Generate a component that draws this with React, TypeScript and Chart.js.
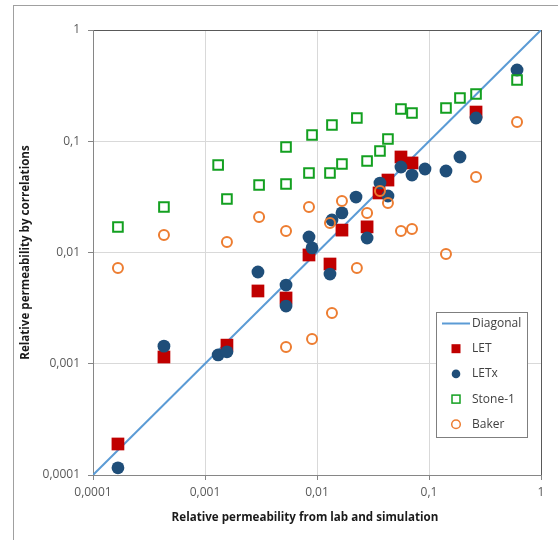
import { useEffect, useRef } from "react";
import { Chart, registerables } from "chart.js";

Chart.register(...registerables);

// ---- data ----
const tickValues = [0.0001, 0.001, 0.01, 0.1, 1];
const tickLabels = ["0,0001", "0,001", "0,01", "0,1", "1"];

const xTitle = "Relative permeability from lab and simulation";
const yTitle = "Relative permeability by correlations";

const diagonalX = [0.0001, 1];
const diagonalY = [0.0001, 1];

const letX = [0.000167, 0.00043, 0.00157, 0.00297, 0.00529, 0.00848, 0.01306, 0.0167, 0.028, 0.0358, 0.043, 0.0562, 0.0705, 0.263];
const letY = [0.00019, 0.00115, 0.00147, 0.00451, 0.0039, 0.0095, 0.00788, 0.0159, 0.017, 0.0343, 0.0448, 0.0722, 0.0638, 0.183];

const letxX = [0.000167, 0.00043, 0.00131, 0.00157, 0.00297, 0.00529, 0.00529, 0.00848, 0.00903, 0.01306, 0.0136, 0.0167, 0.0223, 0.028, 0.0365, 0.043, 0.0562, 0.0705, 0.0921, 0.1418, 0.189, 0.263, 0.611];
const letxY = [0.000116, 0.00144, 0.0012, 0.00128, 0.00668, 0.0051, 0.0033, 0.0138, 0.011, 0.0064, 0.0196, 0.0227, 0.0315, 0.0135, 0.0421, 0.0322, 0.0587, 0.0497, 0.0563, 0.054, 0.0722, 0.1618, 0.437];

const stoneX = [0.000167, 0.00043, 0.00131, 0.00157, 0.00304, 0.00529, 0.00529, 0.00903, 0.00848, 0.0136, 0.01306, 0.0167, 0.0227, 0.028, 0.0365, 0.043, 0.0562, 0.0705, 0.1418, 0.189, 0.263, 0.611];
const stoneY = [0.01695, 0.02564, 0.0612, 0.0303, 0.0404, 0.0888, 0.0413, 0.1138, 0.0518, 0.14, 0.0518, 0.0624, 0.1618, 0.0665, 0.0818, 0.1048, 0.195, 0.1794, 0.199, 0.2447, 0.266, 0.355];

const bakerX = [0.000167, 0.00043, 0.00157, 0.00304, 0.00529, 0.00529, 0.00848, 0.00903, 0.01306, 0.0136, 0.0167, 0.0227, 0.028, 0.0365, 0.043, 0.0562, 0.0705, 0.1418, 0.263, 0.611];
const bakerY = [0.00725, 0.01437, 0.01243, 0.02085, 0.0156, 0.001414, 0.02564, 0.001669, 0.01842, 0.00286, 0.029, 0.00725, 0.02265, 0.0357, 0.0279, 0.0156, 0.01627, 0.0097, 0.0477, 0.149];

const seriesNames = ["Diagonal", "LET", "LETx", "Stone-1", "Baker"];

const toPoints = (xs: number[], ys: number[]) => xs.map((x, i) => ({ x, y: ys[i] }));

const FONT = "'Open Sans', 'Liberation Sans', sans-serif";

const legendPlugin = {
  id: "insideLegend",
  afterDraw(chart: any) {
    const { ctx, chartArea } = chart;
    const bx = Math.round(chartArea.right - 105);
    const by = Math.round(chartArea.top + 282);
    const bw = 91;
    const bh = 125;
    ctx.save();
    ctx.fillStyle = "#ffffff";
    ctx.fillRect(bx, by, bw, bh);
    ctx.strokeStyle = "#7f7f7f";
    ctx.lineWidth = 1;
    ctx.strokeRect(bx + 0.5, by + 0.5, bw, bh);
    ctx.font = `12px ${FONT}`;
    ctx.textBaseline = "middle";
    ctx.textAlign = "left";
    chart.data.datasets.forEach((ds: any, i: number) => {
      const cy = by + 11.5 + i * 25.2;
      const mx = bx + 20;
      if (ds.showLine) {
        ctx.strokeStyle = ds.borderColor;
        ctx.lineWidth = 2;
        ctx.beginPath();
        ctx.moveTo(bx + 6, cy);
        ctx.lineTo(bx + 34, cy);
        ctx.stroke();
      } else if (ds.pointStyle === "rect") {
        if (ds.pointBorderWidth > 0) {
          ctx.strokeStyle = ds.pointBorderColor;
          ctx.lineWidth = 1.5;
          ctx.strokeRect(mx - 4, cy - 4, 8, 8);
        } else {
          ctx.fillStyle = ds.pointBackgroundColor;
          ctx.fillRect(mx - 4.5, cy - 4.5, 9, 9);
        }
      } else {
        ctx.beginPath();
        ctx.arc(mx, cy, 4.3, 0, Math.PI * 2);
        if (ds.pointBorderWidth > 0) {
          ctx.strokeStyle = ds.pointBorderColor;
          ctx.lineWidth = 1.5;
          ctx.stroke();
        } else {
          ctx.fillStyle = ds.pointBackgroundColor;
          ctx.fill();
        }
      }
      ctx.fillStyle = "#404040";
      ctx.fillText(ds.label, bx + 36, cy);
    });
    ctx.restore();
  },
};

// x-axis title drawn slightly left of the plot centre, as in the reference
const xTitlePlugin = {
  id: "xTitle",
  afterDraw(chart: any) {
    const { ctx, chartArea } = chart;
    ctx.save();
    ctx.font = `bold 11.6px ${FONT}`;
    ctx.fillStyle = "#1a1a1a";
    ctx.textAlign = "center";
    ctx.textBaseline = "middle";
    ctx.fillText(xTitle, (chartArea.left + chartArea.right) / 2 - 12, chartArea.bottom + 43);
    ctx.restore();
  },
};

export default function App() {
  const ref = useRef<HTMLCanvasElement | null>(null);

  useEffect(() => {
    if (!ref.current) return;
    const gridColor = (c: any) => (c.tick && c.tick.value === 1 ? "#595959" : "#d9d9d9");
    const setTicks = (scale: any) => {
      scale.ticks = tickValues.map((v) => ({ value: v }));
    };
    const tickCb = (v: any) => {
      const i = tickValues.findIndex((t) => Math.abs(t - Number(v)) / t < 1e-6);
      return i >= 0 ? tickLabels[i] : "";
    };
    const chart = new Chart(ref.current, {
      type: "scatter",
      data: {
        datasets: [
          {
            label: seriesNames[0],
            data: toPoints(diagonalX, diagonalY),
            showLine: true,
            borderColor: "#5b9bd5",
            borderWidth: 2,
            pointRadius: 0,
            order: 5,
          } as any,
          {
            label: seriesNames[1],
            data: toPoints(letX, letY),
            pointStyle: "rect",
            pointRadius: 9,
            pointBackgroundColor: "#c00000",
            pointBorderColor: "#c00000",
            pointBorderWidth: 0,
            order: 4,
          },
          {
            label: seriesNames[2],
            data: toPoints(letxX, letxY),
            pointStyle: "circle",
            pointRadius: 6.4,
            pointBackgroundColor: "#1f4e79",
            pointBorderColor: "#1f4e79",
            pointBorderWidth: 0,
            order: 3,
          },
          {
            label: seriesNames[3],
            data: toPoints(stoneX, stoneY),
            pointStyle: "rect",
            pointRadius: 6.8,
            pointBackgroundColor: "rgba(0,0,0,0)",
            pointBorderColor: "#13a020",
            pointBorderWidth: 2,
            order: 2,
          },
          {
            label: seriesNames[4],
            data: toPoints(bakerX, bakerY),
            pointStyle: "circle",
            pointRadius: 5,
            pointBackgroundColor: "rgba(0,0,0,0)",
            pointBorderColor: "#ed7d31",
            pointBorderWidth: 2,
            order: 1,
          },
        ],
      },
      options: {
        animation: false,
        responsive: false,
        maintainAspectRatio: false,
        devicePixelRatio: 1,
        layout: { padding: { top: 30, right: 17, left: 0, bottom: 0 } },
        plugins: {
          legend: { display: false },
          tooltip: { enabled: false },
        },
        scales: {
          x: {
            type: "logarithmic",
            position: "bottom",
            min: 0.0001,
            max: 1,
            afterBuildTicks: setTicks,
            afterFit: (s: any) => {
              s.height = 65;
            },
            grid: { color: gridColor, tickColor: "#868686", tickLength: 5, lineWidth: 1 },
            border: { color: "#868686", width: 1 },
            ticks: {
              callback: tickCb,
              autoSkip: false,
              maxRotation: 0,
              padding: 5,
              color: "#595959",
              font: { family: FONT, size: 12 },
            },
            title: { display: false },
          },
          y: {
            type: "logarithmic",
            position: "left",
            min: 0.0001,
            max: 1,
            afterBuildTicks: setTicks,
            afterFit: (s: any) => {
              s.width = 93;
            },
            grid: { color: gridColor, tickColor: "#868686", tickLength: 5, lineWidth: 1 },
            border: { color: "#868686", width: 1 },
            ticks: {
              callback: tickCb,
              autoSkip: false,
              padding: 8,
              color: "#595959",
              font: { family: FONT, size: 12 },
            },
            title: {
              display: true,
              text: yTitle,
              color: "#1a1a1a",
              font: { family: FONT, size: 11.6, weight: "bold" },
              padding: { top: 19, bottom: 0 },
            },
          },
        },
      },
      plugins: [legendPlugin, xTitlePlugin],
    });
    return () => chart.destroy();
  }, []);

  return (
    <div
      style={{
        position: "fixed",
        left: 0,
        top: 0,
        width: 558,
        height: 540,
        overflow: "hidden",
        background: "#ffffff",
      }}
    >
      <div
        style={{
          position: "absolute",
          left: 13,
          top: 5,
          width: 600,
          height: 600,
          border: "1px solid #a0a0a0",
          boxSizing: "border-box",
        }}
      />
      <canvas
        ref={ref}
        width={558}
        height={540}
        style={{ position: "absolute", left: 0, top: 0, width: 558, height: 540 }}
      />
    </div>
  );
}
